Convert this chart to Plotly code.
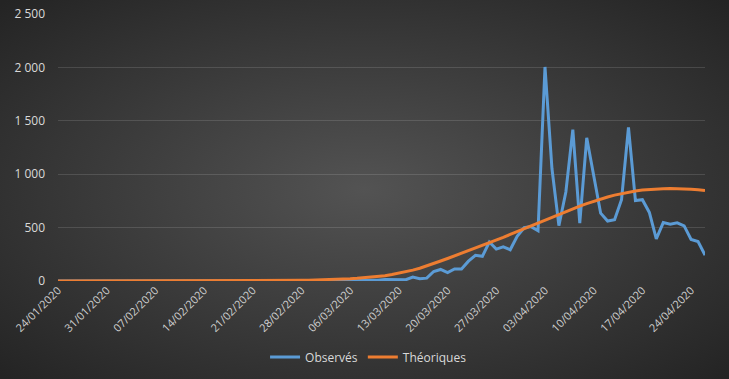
import base64
import pandas as pd
import plotly.graph_objects as go

# ---- data ----
dates = pd.date_range("2020-01-24", "2020-04-26", freq="D")

observes = [0] * 22 + [1] + [0] * 10 + [1, 0, 0, 0, 0,
    1, 1, 0, 2, 3, 2, 8, 6, 8, 15, 13, 18, 12, 36, 21, 27,
    89, 108, 78, 112, 112, 186, 240, 231, 365, 299, 319, 292, 418, 499, 509, 471,
    2004, 1053, 518, 833, 1417, 541, 1341, 987, 635, 561, 574, 762, 1438,
    753, 761, 642, 395, 547, 531, 544, 516, 389, 369, 242]

theoriques = [0] * 14 + [1] * 11 + [2, 2, 2, 2, 3, 3, 4, 4,
    5, 6, 7, 8, 9, 11, 13, 15, 18, 21, 25, 30, 35, 42, 50, 60,
    72, 86, 102, 119, 140, 163, 187, 211, 235, 259, 283, 307, 331, 356, 382,
    409, 436, 463, 490, 517, 545, 572, 599, 626, 652, 677, 701, 724, 746,
    767, 786, 804, 819, 832, 843, 851, 857, 861, 864, 866, 866, 864, 860,
    854, 847]

tick_dates = pd.date_range("2020-01-24", "2020-04-24", freq="7D")
y_ticks = [0, 500, 1000, 1500, 2000, 2500]

W, H = 729, 379
L, R, T, B = 58, 705, 14, 281

svg = f'''<svg xmlns="http://www.w3.org/2000/svg" width="{W}" height="{H}" viewBox="0 0 {W} {H}" preserveAspectRatio="none">
<defs><radialGradient id="g" cx="50%" cy="50%" r="70%">
<stop offset="0%" stop-color="#535353"/>
<stop offset="100%" stop-color="#242424"/>
</radialGradient></defs>
<rect width="{W}" height="{H}" fill="url(#g)"/></svg>'''
bg_uri = "data:image/svg+xml;base64," + base64.b64encode(svg.encode()).decode()

fig = go.Figure()
fig.add_trace(go.Scatter(x=dates, y=observes, mode="lines", name="Observés",
                         line=dict(color="#5B9BD5", width=3)))
fig.add_trace(go.Scatter(x=dates, y=theoriques, mode="lines", name="Théoriques",
                         line=dict(color="#ED7D31", width=3)))

font = "Open Sans, Noto Sans, sans-serif"
fig.update_layout(
    width=W, height=H,
    margin=dict(l=L, r=W - R, t=T, b=H - B, autoexpand=False),
    paper_bgcolor="#303030",
    plot_bgcolor="rgba(0,0,0,0)",
    separators=", ",
    images=[dict(source=bg_uri, xref="paper", yref="paper", x=-L / (R - L),
                 y=1 + T / (B - T), sizex=W / (R - L), sizey=H / (B - T),
                 xanchor="left", yanchor="top", sizing="stretch", layer="below")],
    font=dict(family=font, color="#d9d9d9", size=12),
    showlegend=True,
    legend=dict(orientation="h", x=0.48, xanchor="center", y=-0.285, yanchor="middle",
                font=dict(size=12, color="#d9d9d9"), bgcolor="rgba(0,0,0,0)",
                itemwidth=30),
    xaxis=dict(range=[dates[0], dates[-1]], tickvals=list(tick_dates),
               tickformat="%d/%m/%Y", tickangle=-45, showgrid=False,
               zeroline=False, showline=False, ticks="",
               tickfont=dict(size=11, color="#d0d0d0")),
    yaxis=dict(range=[0, 2500], tickvals=y_ticks, tickformat=",d",
               showgrid=True, gridcolor="rgba(255,255,255,0.13)", gridwidth=1,
               zeroline=False, showline=False, ticks="", ticklabelstandoff=12,
               tickfont=dict(size=12, color="#d9d9d9")),
)

fig.write_html("out.html", config={"displayModeBar": False},
               post_script="document.body.style.margin='0';document.body.style.background='#303030';")
